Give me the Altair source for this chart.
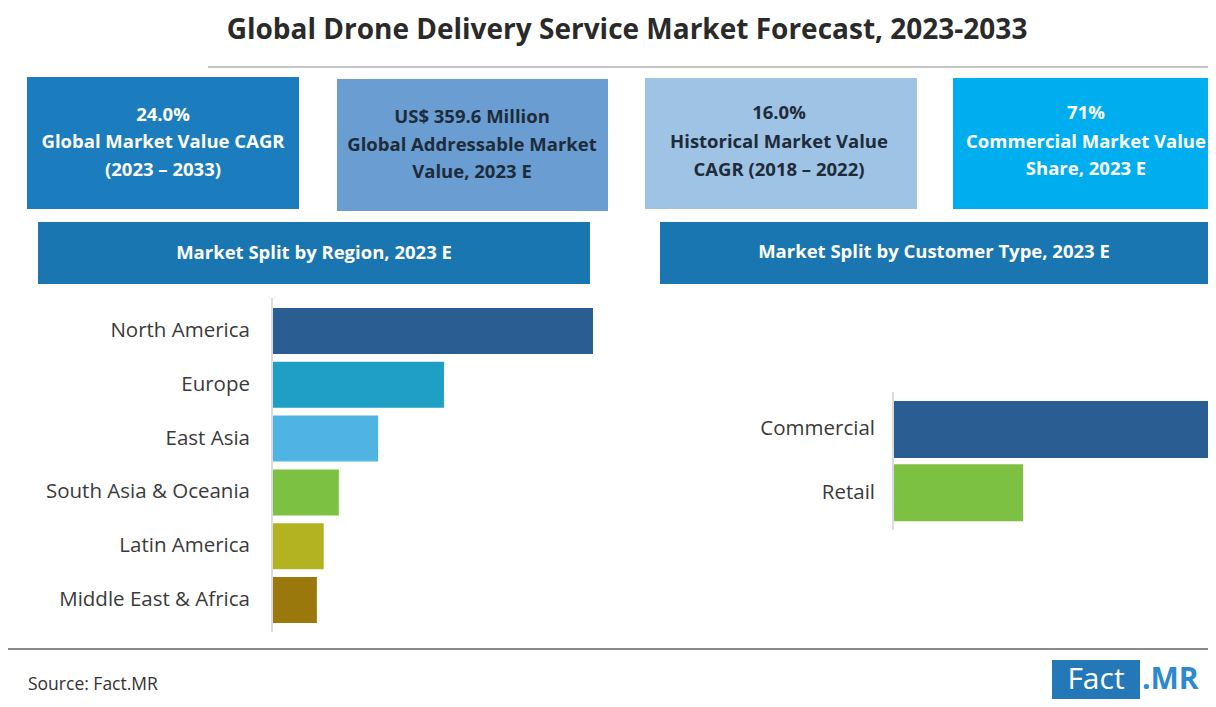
import altair as alt
import pandas as pd

# ---------------- data ----------------
title_text = "Global Drone Delivery Service Market Forecast, 2023-2033"

kpi_lines = [
    ["24.0%", "Global Market Value CAGR", "(2023 – 2033)"],
    ["US$  359.6 Million", "Global Addressable Market", "Value, 2023 E"],
    ["16.0%", "Historical Market Value", "CAGR (2018 – 2022)"],
    ["71%", "Commercial Market Value", "Share, 2023 E"],
]
banner_titles = ["Market Split by Region, 2023 E", "Market Split by Customer Type, 2023 E"]

regions = ["North America", "Europe", "East Asia", "South Asia & Oceania",
           "Latin America", "Middle East & Africa"]
region_share = [42.3, 22.6, 13.9, 8.7, 6.7, 5.8]

customers = ["Commercial", "Retail"]
customer_share = [71, 29]

source_text = "Source: Fact.MR"

# ---------------- styles ----------------
region_colors = ["#2a5d91", "#1f9fc4", "#50b4e3", "#7cc142", "#b3b321", "#9a780b"]
customer_colors = ["#2a5d91", "#7cc142"]
box_fill = ["#1b7dbd", "#6a9ed2", "#9fc3e4", "#00aeef"]
box_text_color = ["white", "#1e2b3a", "#1e2b3a", "white"]
box_pos = [(19, 291, 69, 201), (329, 600, 71, 203), (637, 909, 70, 201), (945, 1215, 70, 201)]
box_line_y = [(107, 134, 162), (109, 137, 164), (105, 134, 162), (105, 134, 161)]
box_cx = [155, 464, 771, 1078]
banner_pos = [(30, 582, 214, 276), (652, 1215, 214, 276)]
banner_text_xy = [(306, 245), (926, 244)]
banner_color = "#1a76b0"

FONT = "Open Sans"
W, H = 1200, 691

dummy = pd.DataFrame({"a": [0]})
layers = []

def rect(x0, x1, y0, y1, color, **kw):
    return alt.Chart(dummy).mark_rect(color=color, **kw).encode(
        x=alt.value(x0), x2=alt.value(x1), y=alt.value(y0), y2=alt.value(y1))

def txt(s, x, y, **kw):
    return alt.Chart(dummy).mark_text(text=s, **kw).encode(x=alt.value(x), y=alt.value(y))

def rule(x0, x1, y0, y1, color, width):
    return alt.Chart(dummy).mark_rule(color=color, strokeWidth=width).encode(
        x=alt.value(x0), x2=alt.value(x1), y=alt.value(y0), y2=alt.value(y1))

# title
layers.append(txt(title_text, 619, 23, font=FONT, fontSize=28, fontWeight="bold",
                  color="#2a2a2a", align="center", baseline="middle"))
layers.append(rule(200, 1200, 59, 59, "#b0b0b0", 1.5))

# KPI boxes
for i, lines in enumerate(kpi_lines):
    x0, x1, y0, y1 = box_pos[i]
    layers.append(rect(x0, x1, y0, y1, box_fill[i]))
    for j, line in enumerate(lines):
        layers.append(txt(line, box_cx[i], box_line_y[i][j], font=FONT, fontSize=18.5,
                          fontWeight="bold", color=box_text_color[i],
                          align="center", baseline="middle"))

# banners
for i, t in enumerate(banner_titles):
    x0, x1, y0, y1 = banner_pos[i]
    layers.append(rect(x0, x1, y0, y1, banner_color))
    layers.append(txt(t, banner_text_xy[i][0], banner_text_xy[i][1], font=FONT, fontSize=18.5,
                      fontWeight="bold", color="white", align="center", baseline="middle"))

# axis lines
layers.append(rule(264, 264, 290, 624, "#d0d0d0", 1.5))
layers.append(rule(885, 885, 384, 522, "#d0d0d0", 1.5))

# region bars
region_df = pd.DataFrame({"region": regions, "share": region_share})
ry = alt.Y("region:N", sort=regions, axis=None,
           scale=alt.Scale(range=[294.6, 620.4], paddingInner=0.145, paddingOuter=0.1))
region_bars = alt.Chart(region_df).mark_bar().encode(
    y=ry,
    x=alt.X("share:Q", axis=None, scale=alt.Scale(domain=[0, 42.3], range=[265, 585], nice=False)),
    color=alt.Color("region:N", scale=alt.Scale(domain=regions, range=region_colors), legend=None),
)
region_labels = alt.Chart(region_df).mark_text(
    font=FONT, fontSize=20.5, color="#3a3a3a", align="right", baseline="middle").encode(
    y=ry, x=alt.value(242), text="region:N")
region_layer = alt.layer(region_bars, region_labels)

# customer bars
cust_df = pd.DataFrame({"customer": customers, "share": customer_share})
cy = alt.Y("customer:N", sort=customers, axis=None,
           scale=alt.Scale(range=[389.8, 516.5], paddingInner=0.1, paddingOuter=0.05))
cust_bars = alt.Chart(cust_df).mark_bar().encode(
    y=cy,
    x=alt.X("share:Q", axis=None, scale=alt.Scale(domain=[0, 71], range=[886, 1202], nice=False)),
    color=alt.Color("customer:N", scale=alt.Scale(domain=customers, range=customer_colors), legend=None),
)
cust_labels = alt.Chart(cust_df).mark_text(
    font=FONT, fontSize=20.5, color="#3a3a3a", align="right", baseline="middle").encode(
    y=cy, x=alt.value(867), text="customer:N")
cust_layer = alt.layer(cust_bars, cust_labels)

# footer
layers.append(rule(0, 1202, 641, 641, "#8a8a8a", 2))
layers.append(txt(source_text, 20, 677, font=FONT, fontSize=17.5, color="#333333",
                  align="left", baseline="middle"))
layers.append(rect(1044, 1132, 652, 691, "#2478b8"))
layers.append(txt("Fact", 1088, 672, font=FONT, fontSize=30, color="white",
                  align="center", baseline="middle"))
layers.append(txt(".MR", 1134, 672, font=FONT, fontSize=30, fontWeight="bold", color="#2b8ad0",
                  align="left", baseline="middle"))

chart = alt.layer(*layers, region_layer, cust_layer).resolve_scale(
    x="independent", y="independent", color="independent"
).properties(
    width=W, height=H, padding=0, autosize=alt.AutoSizeParams(type="none"),
    background="white"
).configure_view(stroke=None)

chart.save("out.html", embed_options={"renderer": "svg", "actions": False})
